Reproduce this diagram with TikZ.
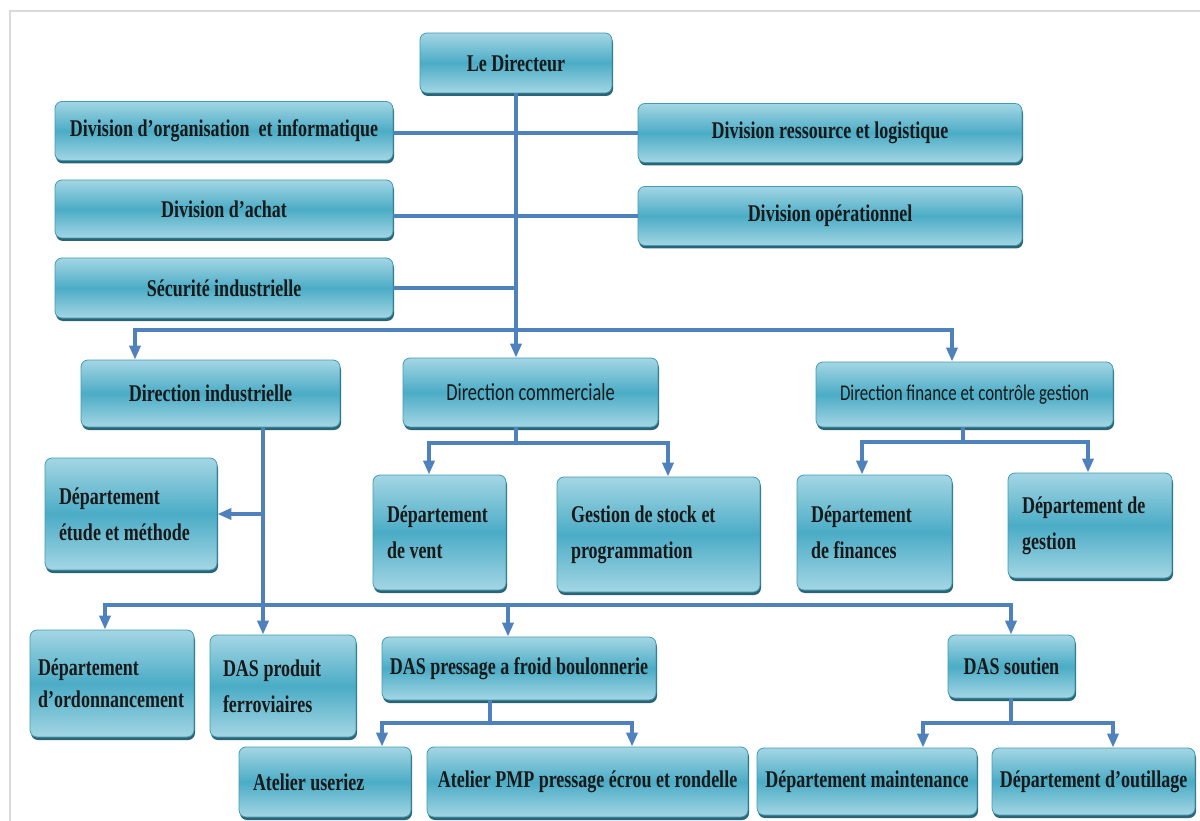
\documentclass[tikz,border=0pt]{standalone}
\usepackage{fontspec}
\setmainfont{Liberation Serif}[FakeStretch=0.75]
\newfontfamily\calib{Carlito}[FakeStretch=0.75]
\usetikzlibrary{arrows.meta,shadows}
\definecolor{boxlight}{HTML}{A4D6E4}
\definecolor{boxmid}{HTML}{4BACC6}
\definecolor{boxedge}{HTML}{3F9CB6}
\definecolor{boxshade}{HTML}{2A6475}
\definecolor{linkblue}{HTML}{4F81BD}
\begin{document}
\begin{tikzpicture}[x=1pt,y=-1pt,
    box/.style={draw=boxedge,line width=0.8pt,rounded corners=7pt,
      top color=boxlight,bottom color=boxlight,middle color=boxmid,
      drop shadow={shadow xshift=1pt,shadow yshift=-3pt,fill=boxshade,opacity=1},
      text=black!90,font=\bfseries\fontsize{24}{36}\selectfont,inner sep=0pt,align=center},
    lbox/.style={box,align=flush left,inner xsep=14pt},
    wire/.style={draw=linkblue,line width=4pt},
    arr/.style={wire,-{Triangle[width=11pt,length=14pt]}}
  ]
  \useasboundingbox (0,0) rectangle (1200,821);
  \draw[black!15,line width=2pt] (10,821) -- (10,11) -- (1200,11);

  \node[box,minimum width=192pt,minimum height=60pt] (dir) at (516,63) {Le Directeur};
  \node[box,minimum width=338pt,minimum height=59pt] (orga) at (224,131) {Division d’organisation\ \ et informatique};
  \node[box,minimum width=338pt,minimum height=58pt] (achat) at (224,209) {Division d’achat};
  \node[box,minimum width=338pt,minimum height=60pt] (secu) at (224,288) {Sécurité industrielle};
  \node[box,minimum width=384pt,minimum height=59pt] (resso) at (830,133) {Division ressource et logistique};
  \node[box,minimum width=384pt,minimum height=59pt] (oper) at (830,216) {Division opérationnel};

  \node[box,minimum width=259pt,minimum height=67pt] (dind) at (210.5,393.5) {Direction industrielle};
  \node[box,minimum width=255pt,minimum height=69pt,font=\calib\fontsize{24.5}{30}\selectfont] (dcom) at (530.5,392.5) {Direction commerciale};
  \node[box,minimum width=297pt,minimum height=65pt,font=\calib\fontsize{22.5}{28}\selectfont] (dfin) at (964.5,394.5) {Direction finance et contrôle gestion};

  \node[lbox,text width=144pt,minimum height=112pt] (etude) at (131,514) {Département\\étude et méthode};
  \node[lbox,text width=105pt,minimum height=115pt] (vent) at (439.5,532.5) {Département\\de vent};
  \node[lbox,text width=175pt,minimum height=115pt] (stock) at (658.5,534.5) {Gestion de stock et\\programmation};
  \node[lbox,text width=127pt,minimum height=115pt] (fin) at (874.5,532.5) {Département\\de finances};
  \node[lbox,text width=136pt,minimum height=105pt] (gest) at (1090,525.5) {Département de\\gestion};

  \node[lbox,text width=148pt,inner xsep=8pt,minimum height=107pt,font=\bfseries\fontsize{24}{32}\selectfont] (ordo) at (112,683.5) {Département\\d’ordonnancement};
  \node[lbox,text width=120pt,inner xsep=13pt,minimum height=102pt] (ferro) at (283,686) {DAS produit\\ferroviaires};
  \node[box,minimum width=274pt,minimum height=63pt] (press) at (519,668.5) {DAS pressage a froid boulonnerie};
  \node[box,minimum width=127pt,minimum height=63pt] (sout) at (1011.5,666.5) {DAS soutien};

  \node[lbox,text width=144pt,minimum height=70pt] (useriez) at (325,782) {Atelier useriez};
  \node[box,minimum width=321pt,minimum height=70pt] (pmp) at (587.5,782) {Atelier PMP pressage écrou et rondelle};
  \node[box,minimum width=220pt,minimum height=67pt] (maint) at (867,781.5) {Département maintenance};
  \node[box,minimum width=203pt,minimum height=67pt] (outil) at (1093.5,781.5) {Département d’outillage};

  \coordinate (bus) at (516,330);
  \coordinate (bus2) at (263,605);
  \draw[wire] (dir) -- (bus);
  \draw[wire] (orga.east |- resso) -- (resso);
  \draw[wire] (achat.east |- oper) -- (oper);
  \draw[wire] (secu) -- (secu -| bus);
  \foreach \n/\s in {dind/-75.5,dcom/-14.5,dfin/-12.5}
    \draw[arr] (bus) -| ([xshift=\s pt]\n.north);

  \draw[wire] ([xshift=52.5pt]dind.south) -- (bus2);
  \draw[arr] (bus2 |- etude) -- (etude);
  \foreach \n/\s in {ordo/-7,ferro/-20,press/-11,sout/-0.5}
    \draw[arr] (bus2) -| ([xshift=\s pt]\n.north);

  \draw[wire] ([xshift=-14.5pt]dcom.south) -- ++(0,16) coordinate (c1);
  \foreach \n/\s in {vent/-10.5,stock/9.5}
    \draw[arr] (c1) -| ([xshift=\s pt]\n.north);
  \draw[wire] ([xshift=-1.5pt]dfin.south) -- ++(0,15) coordinate (c2);
  \foreach \n/\s in {fin/-12.5,gest/-2}
    \draw[arr] (c2) -| ([xshift=\s pt]\n.north);
  \draw[wire] ([xshift=-29pt]press.south) -- ++(0,23) coordinate (c3);
  \foreach \n/\s in {useriez/57,pmp/44.5}
    \draw[arr] (c3) -| ([xshift=\s pt]\n.north);
  \draw[wire] ([xshift=-0.5pt]sout.south) -- ++(0,25) coordinate (c4);
  \foreach \n/\s in {maint/56,outil/19.5}
    \draw[arr] (c4) -| ([xshift=\s pt]\n.north);
\end{tikzpicture}
\end{document}
